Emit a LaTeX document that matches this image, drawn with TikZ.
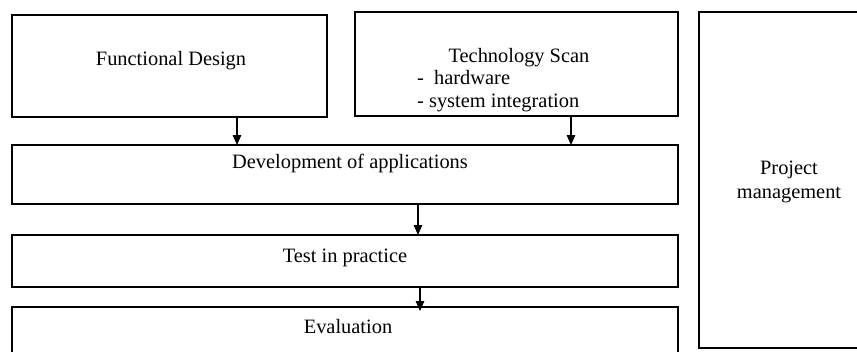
\documentclass[tikz,border=0pt]{standalone}
\usepackage{fontspec}
\setmainfont{Liberation Serif}
\usetikzlibrary{arrows.meta}
\begin{document}
\begin{tikzpicture}[x=1pt,y=-1pt,
  box/.style={draw, line width=1.6pt, inner sep=0pt, outer sep=0pt, anchor=north west},
  lbl/.style={font=\fontsize{20.4}{24}\selectfont, inner sep=0pt, anchor=base},
  flow/.style={line width=1.3pt, -{Triangle[length=10pt,width=8.5pt]}}]
\useasboundingbox (0,0) rectangle (857,351);
\clip (0,0) rectangle (857,351);

% boxes
\node[box, minimum width=315pt, minimum height=102pt] (fd)   at (12,15)  {};
\node[box, minimum width=323pt, minimum height=104pt] (ts)   at (355,12) {};
\node[box, minimum width=190pt, minimum height=336pt] (pm)   at (699,12) {};
\node[box, minimum width=666pt, minimum height=59pt]  (dev)  at (12,145) {};
\node[box, minimum width=666pt, minimum height=52pt]  (test) at (12,235) {};
\node[box, minimum width=666pt, minimum height=80pt]  (eval) at (12,307) {};

% labels
\node[lbl] (tfd)   at (171,65)  {Functional Design};
\node[lbl] (tts)   at (519,62)  {Technology Scan};
\node[lbl, anchor=base west] (tts2) at (417,84)  {-\ \ hardware};
\node[lbl, anchor=base west] (tts3) at (417,107) {- system integration};
\node[lbl] (tdev)  at (350,168) {Development of applications};
\node[lbl] (ttest) at (345,262) {Test in practice};
\node[lbl] (teval) at (348,333) {Evaluation};
\node[lbl] (tpm1)  at (789,174) {Project};
\node[lbl] (tpm2)  at (789,198) {management};

% connectors
\coordinate (x1) at (237,0);
\coordinate (x2) at (571,0);
\coordinate (x3) at (418,0);
\coordinate (x4) at (420,0);
\draw[flow] (fd.south -| x1) -- (dev.north -| x1);
\draw[flow] (ts.south -| x2) -- (dev.north -| x2);
\draw[flow] (dev.south -| x3) -- (test.north -| x3);
\draw[flow, shorten >=-4pt] (test.south -| x4) -- (eval.north -| x4);
\end{tikzpicture}
\end{document}
